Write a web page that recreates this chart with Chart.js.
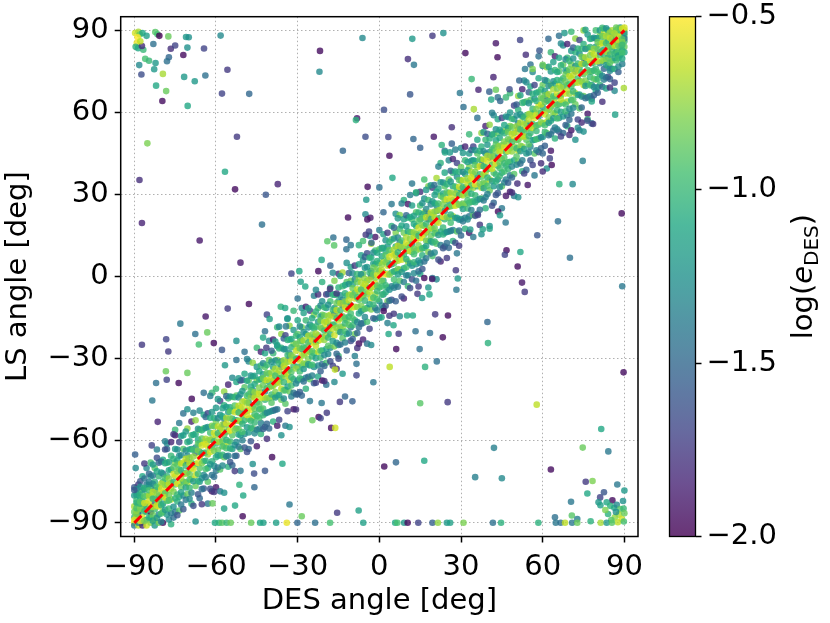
<!DOCTYPE html>
<html><head><meta charset="utf-8">
<script src="https://cdn.jsdelivr.net/npm/chart.js@4.4.1/dist/chart.umd.min.js"></script>
<style>html,body{margin:0;padding:0;background:#fff;}canvas{display:block;}</style>
</head><body>
<canvas id="c" width="830" height="623"></canvas>
<script>
// ---------------- data ----------------
const xTicks = [-90, -60, -30, 0, 30, 60, 90];
const yTicks = [-90, -60, -30, 0, 30, 60, 90];
const cbTicks = [-2.0, -1.5, -1.0, -0.5];
const cbMin = -2.0, cbMax = -0.5;
const refLineX = [-90, 90];
const refLineY = [-90, 90];

// dense band along the 1:1 line, first set: DES angle per column, 8 LS angles per column
const bandDes = [-90,-88.5,-87,-85.5,-84,-82.5,-81,-79.5,-78,-76.5,-75,-73.5,-72,-70.5,-69,-67.5,-66,-64.5,-63,-61.5,-60,-58.5,-57,-55.5,-54,-52.5,-51,-49.5,-48,-46.5,-45,-43.5,-42,-40.5,-39,-37.5,-36,-34.5,-33,-31.5,-30,-28.5,-27,-25.5,-24,-22.5,-21,-19.5,-18,-16.5,-15,-13.5,-12,-10.5,-9,-7.5,-6,-4.5,-3,-1.5,0,1.5,3,4.5,6,7.5,9,10.5,12,13.5,15,16.5,18,19.5,21,22.5,24,25.5,27,28.5,30,31.5,33,34.5,36,37.5,39,40.5,42,43.5,45,46.5,48,49.5,51,52.5,54,55.5,57,58.5,60,61.5,63,64.5,66,67.5,69,70.5,72,73.5,75,76.5,78,79.5,81,82.5,84,85.5,87,88.5,90];
const bandLs = [
-90,-88,-86,-91,-84,-80,-89,-77,
-89,-91,-86,-83,-87,-79,-90,-76,
-85,-90,-88,-82,-78,-91,-84,-73,
-86,-83,-89,-80,-91,-76,-84,-70,
-84,-88,-80,-86,-77,-90,-73,-68,
-81,-85,-78,-89,-75,-83,-70,-91,
-80,-84,-77,-87,-73,-82,-68,-90,
-79,-83,-75,-86,-72,-80,-67,-90,
-78,-82,-73,-87,-68,-76,-63,-61,
-75.5,-81.5,-70.5,-86.5,-65.5,-77.5,-60.5,-90.5,
-73,-81,-68,-86,-76,-63,-58,-56,
-75.5,-70.5,-80.5,-65.5,-72.5,-85.5,-60.5,-53.5,
-75,-68,-80,-63,-72,-85,-58,-50,
-71.5,-65.5,-75.5,-60.5,-79.5,-67.5,-48.5,-55.5,
-68,-74,-63,-79,-58,-70,-53,-83,
-68.5,-62.5,-72.5,-57.5,-76.5,-64.5,-89.5,-52.5,
-66,-70,-61,-75,-56,-64,-81,-49,
-67.5,-60.5,-72.5,-55.5,-64.5,-77.5,-50.5,-42.5,
-65,-60,-70,-55,-62,-75,-50,-83,
-59.5,-67.5,-54.5,-72.5,-62.5,-49.5,-78.5,-42.5,
-58,-66,-53,-71,-61,-48,-77,-41,
-60.5,-55.5,-65.5,-50.5,-57.5,-70.5,-45.5,-78.5,
-58,-52,-62,-47,-66,-54,-79,-42,
-54.5,-60.5,-49.5,-65.5,-44.5,-56.5,-39.5,-69.5,
-54,-58,-49,-63,-44,-52,-69,-37,
-55.5,-48.5,-60.5,-43.5,-52.5,-65.5,-38.5,-30.5,
-53,-48,-58,-43,-50,-63,-38,-71,
-52.5,-45.5,-57.5,-40.5,-49.5,-62.5,-35.5,-27.5,
-48,-52,-43,-57,-38,-46,-63,-31,
-47.5,-41.5,-51.5,-36.5,-55.5,-43.5,-68.5,-31.5,
-43,-51,-38,-56,-46,-33,-62,-26,
-42.5,-48.5,-37.5,-53.5,-32.5,-44.5,-27.5,-57.5,
-45,-38,-50,-33,-42,-55,-28,-20,
-40.5,-44.5,-35.5,-49.5,-30.5,-38.5,-55.5,-23.5,
-38,-44,-33,-49,-28,-40,-23,-53,
-35.5,-43.5,-30.5,-48.5,-38.5,-25.5,-54.5,-18.5,
-37,-31,-41,-26,-45,-33,-58,-21,
-36.5,-31.5,-41.5,-26.5,-33.5,-46.5,-21.5,-54.5,
-34,-28,-38,-23,-42,-30,-55,-18,
-29.5,-37.5,-24.5,-42.5,-32.5,-19.5,-48.5,-12.5,
-33,-26,-38,-21,-30,-43,-16,-8,
-28.5,-32.5,-23.5,-37.5,-18.5,-26.5,-43.5,-11.5,
-26,-32,-21,-37,-16,-28,-11,-41,
-27.5,-22.5,-32.5,-17.5,-24.5,-37.5,-12.5,-45.5,
-24,-28,-19,-33,-14,-22,-39,-7,
-21.5,-27.5,-16.5,-32.5,-11.5,-23.5,-6.5,-36.5,
-19,-27,-14,-32,-22,-9,-38,-2,
-21.5,-16.5,-26.5,-11.5,-18.5,-31.5,-6.5,-39.5,
-21,-14,-26,-9,-18,-31,-4,4,
-17.5,-11.5,-21.5,-6.5,-25.5,-13.5,-38.5,-1.5,
-14,-20,-9,-25,-4,-16,1,-29,
-14.5,-8.5,-18.5,-3.5,-22.5,-10.5,-35.5,1.5,
-12,-16,-7,-21,-2,-10,-27,5,
-13.5,-6.5,-18.5,-1.5,-10.5,-23.5,3.5,11.5,
-11,-6,-16,-1,-8,-21,4,-29,
-5.5,-13.5,-0.5,-18.5,-8.5,4.5,-24.5,11.5,
-4,-12,1,-17,-7,6,-23,13,
-6.5,-1.5,-11.5,3.5,-3.5,-16.5,8.5,-24.5,
-4,2,-8,7,-12,0,-25,12,
-0.5,-6.5,4.5,-11.5,9.5,-2.5,14.5,-15.5,
0,-4,5,-9,10,2,-15,17,
-1.5,5.5,-6.5,10.5,1.5,-11.5,15.5,23.5,
1,6,-4,11,4,-9,16,-17,
1.5,8.5,-3.5,13.5,4.5,-8.5,18.5,26.5,
6,2,11,-3,16,8,-9,23,
6.5,12.5,2.5,17.5,-1.5,10.5,-14.5,22.5,
11,3,16,-2,8,21,-8,28,
11.5,5.5,16.5,0.5,21.5,9.5,26.5,-3.5,
9,16,4,21,12,-1,26,34,
13.5,9.5,18.5,4.5,23.5,15.5,-1.5,30.5,
16,10,21,5,26,14,31,1,
18.5,10.5,23.5,5.5,15.5,28.5,-0.5,35.5,
17,23,13,28,9,21,-4,33,
17.5,22.5,12.5,27.5,20.5,7.5,32.5,-0.5,
20,26,16,31,12,24,-1,36,
24.5,16.5,29.5,11.5,21.5,34.5,5.5,41.5,
21,28,16,33,24,11,38,46,
25.5,21.5,30.5,16.5,35.5,27.5,10.5,42.5,
28,22,33,17,38,26,43,13,
26.5,31.5,21.5,36.5,29.5,16.5,41.5,8.5,
30,26,35,21,40,32,15,47,
32.5,26.5,37.5,21.5,42.5,30.5,47.5,17.5,
35,27,40,22,32,45,16,52,
32.5,37.5,27.5,42.5,35.5,22.5,47.5,14.5,
33,40,28,45,36,23,50,58,
36.5,42.5,32.5,47.5,28.5,40.5,15.5,52.5,
40,34,45,29,50,38,55,25,
39.5,45.5,35.5,50.5,31.5,43.5,18.5,55.5,
42,38,47,33,52,44,27,59,
40.5,47.5,35.5,52.5,43.5,30.5,57.5,65.5,
43,48,38,53,46,33,58,25,
48.5,40.5,53.5,35.5,45.5,58.5,29.5,65.5,
50,42,55,37,47,60,31,67,
47.5,52.5,42.5,57.5,50.5,37.5,62.5,29.5,
50,56,46,61,42,54,29,66,
53.5,47.5,58.5,42.5,63.5,51.5,68.5,38.5,
54,50,59,45,64,56,39,71,
52.5,59.5,47.5,64.5,55.5,42.5,69.5,77.5,
55,60,50,65,58,45,70,37,
55.5,62.5,50.5,67.5,58.5,45.5,72.5,80.5,
60,56,65,51,70,62,45,77,
60.5,66.5,56.5,71.5,52.5,64.5,39.5,76.5,
65,57,70,52,62,75,46,82,
65.5,59.5,70.5,54.5,75.5,63.5,80.5,50.5,
63,70,58,75,66,53,80,88,
67.5,63.5,72.5,58.5,77.5,69.5,52.5,84.5,
70,64,75,59,80,68,85,55,
72.5,64.5,77.5,59.5,69.5,82.5,53.5,89.5,
71,77,67,82,63,75,50,87,
71.5,76.5,66.5,81.5,74.5,61.5,86.5,53.5,
74,80,70,85,66,78,53,90,
78.5,70.5,83.5,65.5,75.5,88.5,59.5,57.5,
75,82,70,87,78,65,64,56,
80,76,84,72,87,79,68,90,
81,78,85,74,88,82,70,90,
83,79,86,76,89,81,72,90.5,
84,80,88,77,86,82,73,90,
86,83,89,79,87,76,90,84,
87,85,90,82,88,79,86,91,
89,86,88,84,90,87,81,91,
90,88,89,86,84,91,87,82
];
const bandLog = [
-0.6,-1.0,-0.85,-1.4,-0.7,-1.2,-0.55,-1.6,
-0.9,-0.65,-1.1,-0.8,-1.5,-1.0,-1.3,-1.75,
-0.75,-1.05,-0.6,-1.2,-0.95,-1.85,-0.8,-1.1,
-1.0,-0.7,-1.25,-0.9,-0.6,-1.4,-1.1,-1.3,
-0.55,-1.15,-0.85,-1.9,-1.0,-0.75,-1.2,-0.95,
-0.8,-0.95,-1.35,-0.65,-1.05,-1.6,-0.9,-1.2,
-1.1,-0.6,-0.9,-1.3,-1.0,-0.75,-1.5,-0.85,
-0.7,-1.2,-1.0,-0.85,-1.45,-0.6,-1.1,-1.95,
-0.6,-0.9,-1.0,-1.2,-0.85,-1.1,-1.5,-1.3,
-0.85,-0.7,-1.15,-1.35,-1.0,-0.65,-1.85,-1.05,
-0.7,-1.05,-0.8,-1.4,-0.95,-1.2,-1.9,-1.0,
-0.75,-0.95,-1.1,-1.25,-0.55,-0.9,-1.7,-1.4,
-1.0,-0.6,-1.3,-0.9,-1.2,-1.6,-1.1,-1.45,
-0.9,-1.3,-0.65,-1.05,-0.85,-1.5,-1.25,-0.75,
-0.85,-0.7,-1.15,-1.35,-1.0,-0.65,-1.85,-1.05,
-0.9,-1.3,-0.65,-1.05,-0.85,-1.5,-1.25,-0.75,
-0.6,-0.9,-1.0,-1.2,-0.85,-1.1,-1.5,-1.3,
-1.0,-0.6,-1.3,-0.9,-1.2,-1.6,-1.1,-1.45,
-0.75,-0.95,-1.1,-1.25,-0.55,-0.9,-1.7,-1.4,
-0.7,-1.05,-0.8,-1.4,-0.95,-1.2,-1.9,-1.0,
-0.7,-1.05,-0.8,-1.4,-0.95,-1.2,-1.9,-1.0,
-0.75,-0.95,-1.1,-1.25,-0.55,-0.9,-1.7,-1.4,
-0.9,-1.3,-0.65,-1.05,-0.85,-1.5,-1.25,-0.75,
-0.85,-0.7,-1.15,-1.35,-1.0,-0.65,-1.85,-1.05,
-0.6,-0.9,-1.0,-1.2,-0.85,-1.1,-1.5,-1.3,
-1.0,-0.6,-1.3,-0.9,-1.2,-1.6,-1.1,-1.45,
-0.75,-0.95,-1.1,-1.25,-0.55,-0.9,-1.7,-1.4,
-1.0,-0.6,-1.3,-0.9,-1.2,-1.6,-1.1,-1.45,
-0.6,-0.9,-1.0,-1.2,-0.85,-1.1,-1.5,-1.3,
-0.9,-1.3,-0.65,-1.05,-0.85,-1.5,-1.25,-0.75,
-0.7,-1.05,-0.8,-1.4,-0.95,-1.2,-1.9,-1.0,
-0.85,-0.7,-1.15,-1.35,-1.0,-0.65,-1.85,-1.05,
-1.0,-0.6,-1.3,-0.9,-1.2,-1.6,-1.1,-1.45,
-0.6,-0.9,-1.0,-1.2,-0.85,-1.1,-1.5,-1.3,
-0.85,-0.7,-1.15,-1.35,-1.0,-0.65,-1.85,-1.05,
-0.7,-1.05,-0.8,-1.4,-0.95,-1.2,-1.9,-1.0,
-0.9,-1.3,-0.65,-1.05,-0.85,-1.5,-1.25,-0.75,
-0.75,-0.95,-1.1,-1.25,-0.55,-0.9,-1.7,-1.4,
-0.9,-1.3,-0.65,-1.05,-0.85,-1.5,-1.25,-0.75,
-0.7,-1.05,-0.8,-1.4,-0.95,-1.2,-1.9,-1.0,
-1.0,-0.6,-1.3,-0.9,-1.2,-1.6,-1.1,-1.45,
-0.6,-0.9,-1.0,-1.2,-0.85,-1.1,-1.5,-1.3,
-0.85,-0.7,-1.15,-1.35,-1.0,-0.65,-1.85,-1.05,
-0.75,-0.95,-1.1,-1.25,-0.55,-0.9,-1.7,-1.4,
-0.55,-0.95,-1.05,-1.25,-0.8,-1.15,-1.55,-1.35,
-0.8,-0.65,-1.2,-1.3,-0.95,-0.7,-1.8,-1.1,
-0.75,-1.1,-0.85,-1.45,-0.9,-1.25,-1.95,-1.05,
-0.7,-1.0,-1.15,-1.2,-0.6,-0.95,-1.75,-1.45,
-1.05,-0.65,-1.25,-0.95,-1.15,-1.65,-1.05,-1.5,
-0.95,-1.25,-0.6,-1.1,-0.8,-1.45,-1.3,-0.8,
-0.8,-0.75,-1.2,-1.3,-1.05,-0.6,-1.8,-1.0,
-0.85,-1.35,-0.7,-1.0,-0.9,-1.55,-1.2,-0.7,
-0.65,-0.85,-1.05,-1.15,-0.9,-1.05,-1.55,-1.25,
-0.95,-0.55,-1.35,-0.85,-1.15,-1.65,-1.15,-1.4,
-0.7,-1.0,-1.05,-1.3,-0.6,-0.85,-1.75,-1.35,
-0.75,-1.1,-0.75,-1.45,-0.9,-1.15,-1.95,-1.05,
-0.65,-1.0,-0.85,-1.35,-1.0,-1.25,-1.85,-0.95,
-0.8,-0.9,-1.15,-1.2,-0.6,-0.95,-1.65,-1.45,
-0.95,-1.25,-0.6,-1.1,-0.8,-1.45,-1.3,-0.7,
-0.8,-0.75,-1.1,-1.4,-0.95,-0.6,-1.9,-1.1,
-0.55,-0.95,-0.95,-1.25,-0.9,-1.05,-1.45,-1.35,
-1.05,-0.65,-1.25,-0.95,-1.15,-1.55,-1.15,-1.5,
-0.7,-1.0,-1.05,-1.2,-0.6,-0.85,-1.75,-1.35,
-0.95,-0.55,-1.35,-0.85,-1.25,-1.65,-1.05,-1.4,
-0.65,-0.85,-1.05,-1.15,-0.8,-1.15,-1.55,-1.25,
-0.85,-1.35,-0.7,-1.0,-0.9,-1.45,-1.3,-0.8,
-0.75,-1.1,-0.85,-1.35,-1.0,-1.15,-1.85,-1.05,
-0.8,-0.75,-1.1,-1.3,-1.05,-0.7,-1.9,-1.0,
-1.05,-0.65,-1.25,-0.95,-1.15,-1.65,-1.15,-1.4,
-0.55,-0.85,-1.05,-1.25,-0.9,-1.05,-1.45,-1.35,
-0.8,-0.75,-1.2,-1.3,-0.95,-0.6,-1.8,-1.1,
-0.75,-1.0,-0.75,-1.45,-0.9,-1.25,-1.95,-0.95,
-0.95,-1.35,-0.7,-1.0,-0.8,-1.55,-1.2,-0.8,
-0.7,-0.9,-1.15,-1.2,-0.6,-0.95,-1.75,-1.45,
-0.85,-1.25,-0.6,-1.1,-0.9,-1.45,-1.3,-0.7,
-0.65,-1.1,-0.85,-1.35,-1.0,-1.15,-1.85,-1.05,
-1.0,-0.6,-1.3,-0.9,-1.2,-1.6,-1.1,-1.45,
-0.6,-0.9,-1.0,-1.2,-0.85,-1.1,-1.5,-1.3,
-0.85,-0.7,-1.15,-1.35,-1.0,-0.65,-1.85,-1.05,
-0.75,-0.95,-1.1,-1.25,-0.55,-0.9,-1.7,-1.4,
-0.6,-0.9,-1.0,-1.2,-0.85,-1.1,-1.5,-1.3,
-0.85,-0.7,-1.15,-1.35,-1.0,-0.65,-1.85,-1.05,
-0.7,-1.05,-0.8,-1.4,-0.95,-1.2,-1.9,-1.0,
-0.75,-0.95,-1.1,-1.25,-0.55,-0.9,-1.7,-1.4,
-1.0,-0.6,-1.3,-0.9,-1.2,-1.6,-1.1,-1.45,
-0.9,-1.3,-0.65,-1.05,-0.85,-1.5,-1.25,-0.75,
-0.85,-0.7,-1.15,-1.35,-1.0,-0.65,-1.85,-1.05,
-0.9,-1.3,-0.65,-1.05,-0.85,-1.5,-1.25,-0.75,
-0.6,-0.9,-1.0,-1.2,-0.85,-1.1,-1.5,-1.3,
-1.0,-0.6,-1.3,-0.9,-1.2,-1.6,-1.1,-1.45,
-0.75,-0.95,-1.1,-1.25,-0.55,-0.9,-1.7,-1.4,
-0.7,-1.05,-0.8,-1.4,-0.95,-1.2,-1.9,-1.0,
-0.7,-1.05,-0.8,-1.4,-0.95,-1.2,-1.9,-1.0,
-0.75,-0.95,-1.1,-1.25,-0.55,-0.9,-1.7,-1.4,
-0.9,-1.3,-0.65,-1.05,-0.85,-1.5,-1.25,-0.75,
-0.85,-0.7,-1.15,-1.35,-1.0,-0.65,-1.85,-1.05,
-0.6,-0.9,-1.0,-1.2,-0.85,-1.1,-1.5,-1.3,
-1.0,-0.6,-1.3,-0.9,-1.2,-1.6,-1.1,-1.45,
-0.75,-0.95,-1.1,-1.25,-0.55,-0.9,-1.7,-1.4,
-1.0,-0.6,-1.3,-0.9,-1.2,-1.6,-1.1,-1.45,
-0.6,-0.9,-1.0,-1.2,-0.85,-1.1,-1.5,-1.3,
-0.9,-1.3,-0.65,-1.05,-0.85,-1.5,-1.25,-0.75,
-0.7,-1.05,-0.8,-1.4,-0.95,-1.2,-1.9,-1.0,
-0.85,-0.7,-1.15,-1.35,-1.0,-0.65,-1.85,-1.05,
-1.0,-0.6,-1.3,-0.9,-1.2,-1.6,-1.1,-1.45,
-0.6,-0.9,-1.0,-1.2,-0.85,-1.1,-1.5,-1.3,
-0.85,-0.7,-1.15,-1.35,-1.0,-0.65,-1.85,-1.05,
-0.7,-1.05,-0.8,-1.4,-0.95,-1.2,-1.9,-1.0,
-0.9,-1.3,-0.65,-1.05,-0.85,-1.5,-1.25,-0.75,
-0.75,-0.95,-1.1,-1.25,-0.55,-0.9,-1.7,-1.4,
-0.9,-1.3,-0.65,-1.05,-0.85,-1.5,-1.25,-0.75,
-0.7,-1.05,-0.8,-1.4,-0.95,-1.2,-1.9,-1.0,
-1.0,-0.6,-1.3,-0.9,-1.2,-1.6,-1.1,-1.45,
-0.65,-1.0,-1.2,-0.85,-1.4,-0.75,-1.1,-0.95,
-0.9,-1.3,-0.6,-1.05,-0.8,-1.6,-1.0,-1.2,
-1.1,-0.7,-0.95,-1.5,-0.6,-1.0,-1.35,-0.85,
-0.75,-1.15,-1.0,-0.9,-1.25,-0.55,-1.7,-1.05,
-0.6,-1.0,-1.3,-0.8,-1.1,-1.45,-0.7,-0.95,
-1.05,-0.65,-0.9,-1.2,-0.75,-1.0,-1.55,-0.85,
-0.8,-1.1,-0.6,-1.35,-0.95,-0.7,-1.0,-1.25,
-0.7,-0.9,-1.2,-1.0,-0.85,-0.6,-1.4,-1.1
];

// dense band, second set (columns between the first set), 8 LS angles per column
const band2Des = [-89.2,-87.8,-86.3,-84.6,-83.2,-81.7,-80.1,-78.7,-77.3,-75.6,-74.2,-72.8,-71.1,-69.7,-68.3,-66.6,-65.2,-63.8,-62.1,-60.7,-59.3,-57.6,-56.2,-54.8,-53.1,-51.7,-50.3,-48.6,-47.2,-45.8,-44.1,-42.7,-41.3,-39.6,-38.2,-36.8,-35.1,-33.7,-32.3,-30.6,-29.2,-27.8,-26.1,-24.7,-23.3,-21.6,-20.2,-18.8,-17.1,-15.7,-14.3,-12.6,-11.2,-9.8,-8.1,-6.7,-5.3,-3.6,-2.2,-0.8,0.9,2.3,3.7,5.4,6.8,8.2,9.9,11.3,12.7,14.4,15.8,17.2,18.9,20.3,21.7,23.4,24.8,26.2,27.9,29.3,30.7,32.4,33.8,35.2,36.9,38.3,39.7,41.4,42.8,44.2,45.9,47.3,48.7,50.4,51.8,53.2,54.9,56.3,57.7,59.4,60.8,62.2,63.9,65.3,66.7,68.4,69.8,71.2,72.9,74.3,75.7,77.4,78.8,80.2,81.9,83.3,84.7,86.4,87.8,89.2];
const band2Ls = [
-87.7,-86.7,-82.7,-81.7,-85.7,-77.7,-79.7,-84.7,
-84.8,-89.3,-83.0,-80.8,-74.8,-82.3,-76.8,-79.8,
-85.8,-89.3,-82.8,-77.8,-80.3,-73.8,-77.3,-68.3,
-85.1,-80.1,-88.1,-76.1,-75.1,-82.1,-78.1,-72.1,
-84.2,-81.2,-87.2,-78.7,-89.2,-75.7,-72.7,-68.7,
-79.2,-82.2,-88.2,-76.7,-83.7,-71.2,-66.2,-63.2,
-80.6,-75.6,-83.6,-71.6,-89.6,-77.6,-86.6,-67.6,
-76.2,-79.2,-85.2,-73.7,-80.7,-68.2,-63.2,-60.2,
-75.8,-79.8,-70.8,-84.8,-73.8,-88.8,-67.8,-81.8,
-75.1,-78.6,-72.1,-84.1,-69.6,-88.1,-66.6,-57.6,
-71.2,-75.7,-79.7,-67.2,-87.2,-68.7,-63.2,-82.2,
-73.8,-70.8,-76.8,-68.3,-78.8,-65.3,-83.3,-58.3,
-72.1,-69.1,-75.1,-66.6,-77.1,-63.6,-81.6,-56.6,
-68.2,-72.2,-63.2,-77.2,-66.2,-81.2,-60.2,-74.2,
-65.8,-68.8,-74.8,-63.3,-70.3,-57.8,-83.8,-49.8,
-63.6,-68.1,-72.1,-59.6,-79.6,-61.1,-55.6,-74.6,
-64.7,-68.2,-61.7,-73.7,-59.2,-77.7,-56.2,-83.2,
-64.3,-59.3,-67.3,-55.3,-73.3,-61.3,-70.3,-51.3,
-59.6,-62.6,-68.6,-57.1,-64.1,-51.6,-77.6,-43.6,
-60.2,-63.7,-57.2,-69.2,-54.7,-73.2,-51.7,-78.7,
-60.3,-57.3,-63.3,-54.8,-65.3,-51.8,-69.8,-44.8,
-56.1,-60.1,-51.1,-65.1,-54.1,-69.1,-48.1,-62.1,
-56.7,-51.7,-59.7,-47.7,-65.7,-53.7,-62.7,-43.7,
-51.8,-56.3,-60.3,-47.8,-67.8,-49.3,-43.8,-62.8,
-52.6,-56.1,-49.6,-61.6,-47.1,-65.6,-44.1,-71.1,
-52.7,-49.7,-55.7,-47.2,-57.7,-44.2,-62.2,-37.2,
-50.8,-45.8,-53.8,-41.8,-59.8,-47.8,-56.8,-37.8,
-46.1,-49.1,-55.1,-43.6,-50.6,-38.1,-64.1,-30.1,
-44.2,-48.7,-52.7,-40.2,-60.2,-41.7,-36.2,-55.2,
-44.3,-48.3,-39.3,-53.3,-42.3,-57.3,-36.3,-50.3,
-42.6,-46.6,-37.6,-51.6,-40.6,-55.6,-34.6,-48.6,
-39.7,-44.2,-48.2,-35.7,-55.7,-37.2,-31.7,-50.7,
-40.8,-44.3,-37.8,-49.8,-35.3,-53.8,-32.3,-59.3,
-40.1,-35.1,-43.1,-31.1,-49.1,-37.1,-46.1,-27.1,
-39.2,-36.2,-42.2,-33.7,-44.2,-30.7,-48.7,-23.7,
-34.3,-37.3,-43.3,-31.8,-38.8,-26.3,-52.3,-18.3,
-35.6,-30.6,-38.6,-26.6,-44.6,-32.6,-41.6,-22.6,
-31.2,-34.2,-40.2,-28.7,-35.7,-23.2,-49.2,-15.2,
-30.8,-34.8,-25.8,-39.8,-28.8,-43.8,-22.8,-36.8,
-30.1,-33.6,-27.1,-39.1,-24.6,-43.1,-21.6,-48.6,
-26.2,-30.7,-34.7,-22.2,-42.2,-23.7,-18.2,-37.2,
-28.8,-25.8,-31.8,-23.3,-33.8,-20.3,-38.3,-13.3,
-27.1,-24.1,-30.1,-21.6,-32.1,-18.6,-36.6,-11.6,
-23.2,-27.2,-18.2,-32.2,-21.2,-36.2,-15.2,-29.2,
-20.8,-23.8,-29.8,-18.3,-25.3,-12.8,-38.8,-4.8,
-18.6,-23.1,-27.1,-14.6,-34.6,-16.1,-10.6,-29.6,
-19.7,-23.2,-16.7,-28.7,-14.2,-32.7,-11.2,-38.2,
-19.3,-14.3,-22.3,-10.3,-28.3,-16.3,-25.3,-6.3,
-14.6,-17.6,-23.6,-12.1,-19.1,-6.6,-32.6,1.4,
-15.2,-18.7,-12.2,-24.2,-9.7,-28.2,-6.7,-33.7,
-15.3,-12.3,-18.3,-9.8,-20.3,-6.8,-24.8,0.2,
-11.1,-15.1,-6.1,-20.1,-9.1,-24.1,-3.1,-17.1,
-11.7,-6.7,-14.7,-2.7,-20.7,-8.7,-17.7,1.3,
-6.8,-11.3,-15.3,-2.8,-22.8,-4.3,1.2,-17.8,
-7.6,-11.1,-4.6,-16.6,-2.1,-20.6,0.9,-26.1,
-7.7,-4.7,-10.7,-2.2,-12.7,0.8,-17.2,7.8,
-5.8,-0.8,-8.8,3.2,-14.8,-2.8,-11.8,7.2,
-1.1,-4.1,-10.1,1.4,-5.6,6.9,-19.1,14.9,
0.8,-3.7,-7.7,4.8,-15.2,3.3,8.8,-10.2,
0.7,-3.3,5.7,-8.3,2.7,-12.3,8.7,-5.3,
2.4,-1.6,7.4,-6.6,4.4,-10.6,10.4,-3.6,
5.3,0.8,-3.2,9.3,-10.7,7.8,13.3,-5.7,
4.2,0.7,7.2,-4.8,9.7,-8.8,12.7,-14.3,
4.9,9.9,1.9,13.9,-4.1,7.9,-1.1,17.9,
5.8,8.8,2.8,11.3,0.8,14.3,-3.7,21.3,
10.7,7.7,1.7,13.2,6.2,18.7,-7.3,26.7,
9.4,14.4,6.4,18.4,0.4,12.4,3.4,22.4,
13.8,10.8,4.8,16.3,9.3,21.8,-4.2,29.8,
14.2,10.2,19.2,5.2,16.2,1.2,22.2,8.2,
14.9,11.4,17.9,5.9,20.4,1.9,23.4,-3.6,
18.8,14.3,10.3,22.8,2.8,21.3,26.8,7.8,
16.2,19.2,13.2,21.7,11.2,24.7,6.7,31.7,
17.9,20.9,14.9,23.4,12.9,26.4,8.4,33.4,
21.8,17.8,26.8,12.8,23.8,8.8,29.8,15.8,
24.2,21.2,15.2,26.7,19.7,32.2,6.2,40.2,
26.4,21.9,17.9,30.4,10.4,28.9,34.4,15.4,
25.3,21.8,28.3,16.3,30.8,12.3,33.8,6.8,
25.7,30.7,22.7,34.7,16.7,28.7,19.7,38.7,
30.4,27.4,21.4,32.9,25.9,38.4,12.4,46.4,
29.8,26.3,32.8,20.8,35.3,16.8,38.3,11.3,
29.7,32.7,26.7,35.2,24.7,38.2,20.2,45.2,
33.9,29.9,38.9,24.9,35.9,20.9,41.9,27.9,
33.3,38.3,30.3,42.3,24.3,36.3,27.3,46.3,
38.2,33.7,29.7,42.2,22.2,40.7,46.2,27.2,
37.4,33.9,40.4,28.4,42.9,24.4,45.9,18.9,
37.3,40.3,34.3,42.8,32.3,45.8,27.8,52.8,
39.2,44.2,36.2,48.2,30.2,42.2,33.2,52.2,
43.9,40.9,34.9,46.4,39.4,51.9,25.9,59.9,
45.8,41.3,37.3,49.8,29.8,48.3,53.8,34.8,
45.7,41.7,50.7,36.7,47.7,32.7,53.7,39.7,
47.4,43.4,52.4,38.4,49.4,34.4,55.4,41.4,
50.3,45.8,41.8,54.3,34.3,52.8,58.3,39.3,
49.2,45.7,52.2,40.2,54.7,36.2,57.7,30.7,
49.9,54.9,46.9,58.9,40.9,52.9,43.9,62.9,
50.8,53.8,47.8,56.3,45.8,59.3,41.3,66.3,
55.7,52.7,46.7,58.2,51.2,63.7,37.7,71.7,
54.4,59.4,51.4,63.4,45.4,57.4,48.4,67.4,
58.8,55.8,49.8,61.3,54.3,66.8,40.8,74.8,
59.2,55.2,64.2,50.2,61.2,46.2,67.2,53.2,
59.9,56.4,62.9,50.9,65.4,46.9,68.4,41.4,
63.8,59.3,55.3,67.8,47.8,66.3,71.8,52.8,
61.2,64.2,58.2,66.7,56.2,69.7,51.7,76.7,
62.9,65.9,59.9,68.4,57.9,71.4,53.4,78.4,
66.8,62.8,71.8,57.8,68.8,53.8,74.8,60.8,
69.2,66.2,60.2,71.7,64.7,77.2,51.2,85.2,
71.4,66.9,62.9,75.4,55.4,73.9,79.4,60.4,
70.3,66.8,73.3,61.3,75.8,57.3,78.8,51.8,
70.7,75.7,67.7,79.7,61.7,73.7,64.7,83.7,
75.4,72.4,66.4,77.9,70.9,83.4,57.4,54.4,
74.8,71.3,77.8,65.8,80.3,61.8,83.3,56.3,
74.7,77.7,71.7,80.2,69.7,83.2,65.2,90.2,
78.9,74.9,83.9,69.9,80.9,65.9,86.9,72.9,
78.3,83.3,75.3,87.3,69.3,81.3,72.3,66.3,
83.2,78.7,74.7,87.2,67.2,85.7,69.2,72.2,
82.4,78.9,85.4,73.4,87.9,69.4,90.9,63.9,
82.3,85.3,79.3,87.8,77.3,90.8,72.8,68.8,
84.2,89.2,81.2,76.2,75.2,87.2,78.2,72.2,
88.9,85.9,79.9,81.4,84.4,75.9,70.9,67.9,
90.8,86.3,82.3,80.8,74.8,84.3,76.8,79.8,
90.7,86.7,82.7,81.7,85.7,77.7,79.7,84.7
];
const band2Log = [
-0.65,-0.85,-1.1,-1.0,-0.75,-1.3,-1.15,-0.95,
-0.8,-0.55,-1.0,-1.1,-1.6,-0.9,-1.25,-1.05,
-1.0,-0.8,-0.6,-1.25,-0.9,-1.45,-1.05,-1.75,
-0.9,-0.7,-1.05,-1.2,-1.35,-0.6,-0.95,-1.5,
-0.7,-1.0,-0.85,-0.65,-1.15,-1.3,-1.4,-1.2,
-0.75,-0.9,-1.2,-0.95,-0.6,-1.1,-1.65,-1.35,
-0.9,-0.7,-1.05,-1.2,-1.35,-0.6,-0.95,-1.5,
-0.75,-0.9,-1.2,-0.95,-0.6,-1.1,-1.65,-1.35,
-0.65,-0.85,-1.1,-1.0,-0.75,-1.3,-1.15,-0.95,
-1.0,-0.8,-0.6,-1.25,-0.9,-1.45,-1.05,-1.75,
-0.8,-0.55,-1.0,-1.1,-1.6,-0.9,-1.25,-1.05,
-0.7,-1.0,-0.85,-0.65,-1.15,-1.3,-1.4,-1.2,
-0.7,-1.0,-0.85,-0.65,-1.15,-1.3,-1.4,-1.2,
-0.65,-0.85,-1.1,-1.0,-0.75,-1.3,-1.15,-0.95,
-0.75,-0.9,-1.2,-0.95,-0.6,-1.1,-1.65,-1.35,
-0.8,-0.55,-1.0,-1.1,-1.6,-0.9,-1.25,-1.05,
-1.0,-0.8,-0.6,-1.25,-0.9,-1.45,-1.05,-1.75,
-0.9,-0.7,-1.05,-1.2,-1.35,-0.6,-0.95,-1.5,
-0.75,-0.9,-1.2,-0.95,-0.6,-1.1,-1.65,-1.35,
-1.0,-0.8,-0.6,-1.25,-0.9,-1.45,-1.05,-1.75,
-0.7,-1.0,-0.85,-0.65,-1.15,-1.3,-1.4,-1.2,
-0.65,-0.85,-1.1,-1.0,-0.75,-1.3,-1.15,-0.95,
-0.9,-0.7,-1.05,-1.2,-1.35,-0.6,-0.95,-1.5,
-0.8,-0.55,-1.0,-1.1,-1.6,-0.9,-1.25,-1.05,
-1.0,-0.8,-0.6,-1.25,-0.9,-1.45,-1.05,-1.75,
-0.7,-1.0,-0.85,-0.65,-1.15,-1.3,-1.4,-1.2,
-0.9,-0.7,-1.05,-1.2,-1.35,-0.6,-0.95,-1.5,
-0.75,-0.9,-1.2,-0.95,-0.6,-1.1,-1.65,-1.35,
-0.8,-0.55,-1.0,-1.1,-1.6,-0.9,-1.25,-1.05,
-0.65,-0.85,-1.1,-1.0,-0.75,-1.3,-1.15,-0.95,
-0.6,-0.9,-1.05,-0.95,-0.8,-1.35,-1.1,-1.0,
-0.85,-0.6,-0.95,-1.15,-1.55,-0.85,-1.3,-1.0,
-0.95,-0.75,-0.65,-1.3,-0.85,-1.5,-1.0,-1.8,
-0.85,-0.75,-1.0,-1.25,-1.3,-0.65,-0.9,-1.55,
-0.75,-0.95,-0.8,-0.7,-1.2,-1.25,-1.45,-1.15,
-0.7,-0.95,-1.15,-1.0,-0.65,-1.05,-1.7,-1.3,
-0.85,-0.75,-1.0,-1.25,-1.3,-0.65,-0.9,-1.55,
-0.7,-0.95,-1.15,-1.0,-0.65,-1.05,-1.7,-1.3,
-0.6,-0.9,-1.05,-0.95,-0.8,-1.35,-1.1,-1.0,
-0.95,-0.75,-0.65,-1.3,-0.85,-1.5,-1.0,-1.8,
-0.85,-0.6,-0.95,-1.15,-1.55,-0.85,-1.3,-1.0,
-0.75,-0.95,-0.8,-0.7,-1.2,-1.25,-1.45,-1.15,
-0.75,-0.95,-0.8,-0.7,-1.2,-1.25,-1.45,-1.15,
-0.6,-0.9,-1.05,-0.95,-0.8,-1.35,-1.1,-1.0,
-0.7,-0.95,-1.15,-1.0,-0.65,-1.05,-1.7,-1.3,
-0.85,-0.6,-0.95,-1.15,-1.55,-0.85,-1.3,-1.0,
-0.95,-0.75,-0.65,-1.3,-0.85,-1.5,-1.0,-1.8,
-0.85,-0.75,-1.0,-1.25,-1.3,-0.65,-0.9,-1.55,
-0.7,-0.95,-1.15,-1.0,-0.65,-1.05,-1.7,-1.3,
-0.95,-0.75,-0.65,-1.3,-0.85,-1.5,-1.0,-1.8,
-0.75,-0.95,-0.8,-0.7,-1.2,-1.25,-1.45,-1.15,
-0.6,-0.9,-1.05,-0.95,-0.8,-1.35,-1.1,-1.0,
-0.85,-0.75,-1.0,-1.25,-1.3,-0.65,-0.9,-1.55,
-0.85,-0.6,-0.95,-1.15,-1.55,-0.85,-1.3,-1.0,
-0.95,-0.75,-0.65,-1.3,-0.85,-1.5,-1.0,-1.8,
-0.75,-0.95,-0.8,-0.7,-1.2,-1.25,-1.45,-1.15,
-0.85,-0.75,-1.0,-1.25,-1.3,-0.65,-0.9,-1.55,
-0.7,-0.95,-1.15,-1.0,-0.65,-1.05,-1.7,-1.3,
-0.85,-0.6,-0.95,-1.15,-1.55,-0.85,-1.3,-1.0,
-0.6,-0.9,-1.05,-0.95,-0.8,-1.35,-1.1,-1.0,
-0.65,-0.85,-1.1,-1.0,-0.75,-1.3,-1.15,-0.95,
-0.8,-0.55,-1.0,-1.1,-1.6,-0.9,-1.25,-1.05,
-1.0,-0.8,-0.6,-1.25,-0.9,-1.45,-1.05,-1.75,
-0.9,-0.7,-1.05,-1.2,-1.35,-0.6,-0.95,-1.5,
-0.7,-1.0,-0.85,-0.65,-1.15,-1.3,-1.4,-1.2,
-0.75,-0.9,-1.2,-0.95,-0.6,-1.1,-1.65,-1.35,
-0.9,-0.7,-1.05,-1.2,-1.35,-0.6,-0.95,-1.5,
-0.75,-0.9,-1.2,-0.95,-0.6,-1.1,-1.65,-1.35,
-0.65,-0.85,-1.1,-1.0,-0.75,-1.3,-1.15,-0.95,
-1.0,-0.8,-0.6,-1.25,-0.9,-1.45,-1.05,-1.75,
-0.8,-0.55,-1.0,-1.1,-1.6,-0.9,-1.25,-1.05,
-0.7,-1.0,-0.85,-0.65,-1.15,-1.3,-1.4,-1.2,
-0.7,-1.0,-0.85,-0.65,-1.15,-1.3,-1.4,-1.2,
-0.65,-0.85,-1.1,-1.0,-0.75,-1.3,-1.15,-0.95,
-0.75,-0.9,-1.2,-0.95,-0.6,-1.1,-1.65,-1.35,
-0.8,-0.55,-1.0,-1.1,-1.6,-0.9,-1.25,-1.05,
-1.0,-0.8,-0.6,-1.25,-0.9,-1.45,-1.05,-1.75,
-0.9,-0.7,-1.05,-1.2,-1.35,-0.6,-0.95,-1.5,
-0.75,-0.9,-1.2,-0.95,-0.6,-1.1,-1.65,-1.35,
-1.0,-0.8,-0.6,-1.25,-0.9,-1.45,-1.05,-1.75,
-0.7,-1.0,-0.85,-0.65,-1.15,-1.3,-1.4,-1.2,
-0.65,-0.85,-1.1,-1.0,-0.75,-1.3,-1.15,-0.95,
-0.9,-0.7,-1.05,-1.2,-1.35,-0.6,-0.95,-1.5,
-0.8,-0.55,-1.0,-1.1,-1.6,-0.9,-1.25,-1.05,
-1.0,-0.8,-0.6,-1.25,-0.9,-1.45,-1.05,-1.75,
-0.7,-1.0,-0.85,-0.65,-1.15,-1.3,-1.4,-1.2,
-0.9,-0.7,-1.05,-1.2,-1.35,-0.6,-0.95,-1.5,
-0.75,-0.9,-1.2,-0.95,-0.6,-1.1,-1.65,-1.35,
-0.8,-0.55,-1.0,-1.1,-1.6,-0.9,-1.25,-1.05,
-0.65,-0.85,-1.1,-1.0,-0.75,-1.3,-1.15,-0.95,
-0.6,-0.9,-1.05,-0.95,-0.8,-1.35,-1.1,-1.0,
-0.85,-0.6,-0.95,-1.15,-1.55,-0.85,-1.3,-1.0,
-0.95,-0.75,-0.65,-1.3,-0.85,-1.5,-1.0,-1.8,
-0.85,-0.75,-1.0,-1.25,-1.3,-0.65,-0.9,-1.55,
-0.75,-0.95,-0.8,-0.7,-1.2,-1.25,-1.45,-1.15,
-0.7,-0.95,-1.15,-1.0,-0.65,-1.05,-1.7,-1.3,
-0.85,-0.75,-1.0,-1.25,-1.3,-0.65,-0.9,-1.55,
-0.7,-0.95,-1.15,-1.0,-0.65,-1.05,-1.7,-1.3,
-0.6,-0.9,-1.05,-0.95,-0.8,-1.35,-1.1,-1.0,
-0.95,-0.75,-0.65,-1.3,-0.85,-1.5,-1.0,-1.8,
-0.85,-0.6,-0.95,-1.15,-1.55,-0.85,-1.3,-1.0,
-0.75,-0.95,-0.8,-0.7,-1.2,-1.25,-1.45,-1.15,
-0.75,-0.95,-0.8,-0.7,-1.2,-1.25,-1.45,-1.15,
-0.6,-0.9,-1.05,-0.95,-0.8,-1.35,-1.1,-1.0,
-0.7,-0.95,-1.15,-1.0,-0.65,-1.05,-1.7,-1.3,
-0.85,-0.6,-0.95,-1.15,-1.55,-0.85,-1.3,-1.0,
-0.95,-0.75,-0.65,-1.3,-0.85,-1.5,-1.0,-1.8,
-0.85,-0.75,-1.0,-1.25,-1.3,-0.65,-0.9,-1.55,
-0.7,-0.95,-1.15,-1.0,-0.65,-1.05,-1.7,-1.3,
-0.95,-0.75,-0.65,-1.3,-0.85,-1.5,-1.0,-1.8,
-0.75,-0.95,-0.8,-0.7,-1.2,-1.25,-1.45,-1.15,
-0.6,-0.9,-1.05,-0.95,-0.8,-1.35,-1.1,-1.0,
-0.85,-0.75,-1.0,-1.25,-1.3,-0.65,-0.9,-1.55,
-0.85,-0.6,-0.95,-1.15,-1.55,-0.85,-1.3,-1.0,
-0.95,-0.75,-0.65,-1.3,-0.85,-1.5,-1.0,-1.8,
-0.75,-0.95,-0.8,-0.7,-1.2,-1.25,-1.45,-1.15,
-0.85,-0.75,-1.0,-1.25,-1.3,-0.65,-0.9,-1.55,
-0.7,-0.95,-1.15,-1.0,-0.65,-1.05,-1.7,-1.3,
-0.85,-0.6,-0.95,-1.15,-1.55,-0.85,-1.3,-1.0,
-0.6,-0.9,-1.05,-0.95,-0.8,-1.35,-1.1,-1.0
];

// scattered points away from the 1:1 line
const outDes = [
-89.7,-88.5,-89.1,-88.0,-87.0,-85.5,-82.3,-81.5,-80.8,-77.5,
-71.0,-70.0,-58.3,-89.5,-88.6,-86.7,-87.2,-83.0,-76.6,-75.0,
-70.5,-64.4,-72.0,-77.3,-78.0,-86.0,-84.6,-82.2,-88.2,-82.7,
-87.4,-79.5,-71.7,-67.8,-63.9,-55.8,-82.0,-78.3,-57.8,-47.8,
-79.7,-70.4,-85.2,-52.3,-13.4,-8.2,-8.6,-5.1,-56.7,-88.1,
-53.0,-37.3,-41.7,-21.8,-6.2,-22.0,-4.3,-88.8,-87.8,0.0,
12.1,19.5,23.5,10.5,12.7,11.3,1.7,42.8,51.7,31.6,
43.4,53.8,58.8,62.1,68.0,53.5,56.3,60.0,33.9,41.9,
51.4,36.4,40.4,41.1,42.8,29.6,30.9,34.7,44.4,47.8,
26.6,3.3,12.5,15.0,20.0,3.7,22.9,26.6,24.1,25.9,
4.8,13.5,20.2,74.7,63.3,62.6,60.0,66.1,71.0,50.7,
54.5,86.6,78.5,76.4,89.8,84.7,-4.8,-87.2,-66.0,-43.1,
-51.0,-11.5,-32.3,-22.4,-55.7,-47.9,-63.8,-73.1,-67.6,-63.2,
-66.3,-87.2,-78.3,-77.5,-60.8,-57.8,-52.5,-41.3,-40.3,-42.7,
-41.5,-36.2,-34.6,-33.8,-29.4,-28.9,-27.2,-19.1,-16.6,-16.9,
-21.2,-12.1,-12.1,-5.1,-4.4,-3.3,-5.0,-3.8,-2.9,-18.1,
-15.7,-34.3,-37.5,89.0,65.6,70.0,89.2,58.0,46.7,46.1,
51.8,50.8,52.4,53.4,43.6,36.2,40.5,38.0,33.4,46.4,
44.3,39.7,39.9,25.2,23.3,20.5,18.6,13.3,7.1,14.8,
6.2,3.4,21.1,16.8,3.8,28.1,28.3,28.8,19.4,18.4,
14.0,15.7,10.2,12.3,5.3,5.2,1.6,0.8,15.0,25.1,
57.8,89.7,81.5,84.1,74.7,63.0,75.8,78.3,87.4,76.4,
81.1,82.5,85.6,90.0,80.5,81.2,83.5,84.8,86.3,87.2,
88.5,89.5,89.7,88.0,86.5,89.0,90.0,84.0,85.2,87.6,
89.8,83.0,86.9,70.4,70.7,64.5,72.7,77.6,5.8,6.6,
9.1,10.4,14.3,19.5,21.5,24.8,26.0,30.9,41.7,44.7,
58.4,64.8,66.6,68.2,70.8,72.7,81.3,83.5,85.4,1.8,
6.1,16.5,35.2,42.1,45.0,-82.0,-78.1,-73.7,-78.4,-70.5,
-83.4,-81.4,-83.6,-68.9,-56.7,-50.2,-45.9,-51.4,-50.0,-57.0,
-53.0,-61.3,-33.0,-28.5,-15.5,-7.6,-35.6,-39.4,-42.0,-46.0,
-24.6,-22.3,-21.6,-19.3,-17.7,-16.2,-14.5,-12.6,-9.9,-8.4,
-8.4,-2.2,-21.2,-16.3,-15.0,-60.4,-58.9,-57.8,-56.1,-54.6,
-47.1,-43.8,-42.6,-37.9,-34.0,-30.1,-23.6,-18.1,-5.9,-90.0,
-89.7,-89.5
];
const outLs = [
89,89.5,85.4,88.5,89.0,88.0,89.4,88.6,88.0,87.8,
87.6,87.5,88.1,84.0,83.5,82.9,84.3,85.0,83.3,84.5,
83.7,83.4,81.0,80.2,78.7,79.6,78.9,78.1,77.3,75.8,
73.9,74.1,73.0,71.4,73.5,75.6,69.8,67.8,66.9,66.8,
64.2,62.4,48.7,51.1,46.0,57.9,57.2,51.1,38.3,35.3,
31.9,33.8,29.9,82.5,87.2,74.9,32.8,87.5,86.0,32.6,
86.9,88.0,89.0,79.5,77.4,66.6,61.0,85.3,86.5,81.7,
80.2,81.1,82.6,86.9,89.0,75.9,75.9,77.4,72.2,72.9,
71.7,68.3,67.6,64.7,68.3,67.1,62.0,61.2,64.2,68.5,
54.6,51.0,50.3,47.1,51.1,44.2,48.1,48.6,45.4,45.4,
36.1,30.8,33.5,42.3,40.8,43.2,38.4,33.8,33.8,34.0,
33.5,59.2,55.8,57.0,68.9,69.1,28.1,19.6,13.2,19.0,
5.1,21.6,1.1,2.0,-11.7,-10.0,-14.6,-17.2,-21.0,-20.4,
-24.8,-24.9,-22.9,-27.4,-24.3,-26.8,-23.5,-13.9,-15.5,-22.3,
-26.0,-11.0,-11.5,-15.5,2.0,-1.9,-3.6,12.9,11.4,14.3,
6.1,13.5,10.0,22.8,20.9,21.5,15.3,16.5,12.4,-4.5,
-6.2,-18.2,-25.0,23.1,20.2,6.9,-3.5,15.1,9.6,8.0,
9.0,3.7,-2.2,-5.6,23.8,22.5,17.5,17.3,17.2,19.8,
22.4,-16.6,-24.3,-14.2,-22.2,-13.8,-20.6,-20.0,-20.9,-26.5,
-26.5,-21.0,-31.0,-33.0,-33.0,2.3,-4.8,-0.7,-0.9,-6.5,
-6.3,-7.8,-14.2,-14.2,-13.6,-17.8,-12.6,-14.9,-46.3,-45.9,
-46.8,-35.0,-55.7,-63.9,-62.5,-70.5,-75.0,-74.7,-76.0,-79.3,
-80.7,-78.8,-81.8,-78.2,-82.5,-83.6,-82.5,-83.8,-84.5,-83.4,
-85.0,-82.0,-84.8,-87.0,-88.0,-88.5,-86.5,-86.8,-89.0,-89.8,
-89.5,-85.3,-86.0,-82.3,-87.3,-88.0,-88.6,-89.4,-90,-90,
-90,-90,-90,-90,-90,-90,-90,-90,-90,-90,
-90,-90,-90,-90,-90,-90,-90,-90,-90,-69.4,
-67.9,-67.3,-73.3,-62.6,-73.7,-38.9,-37.7,-38.9,-34.6,-35.2,
-45.3,-53.1,-61.7,-44.7,-32.4,-87.6,-77.0,-76.1,-80.0,-84.8,
-83.7,-82.9,-83.3,-87.6,-86.3,-85.5,-68.4,-66.0,-71.0,-72.0,
-52.5,-51.3,-51.8,-49.8,-55.3,-55.3,-45.8,-43.8,-45.6,-31.9,
-36.1,-38.6,-46.2,-34.0,-30.0,-90,-90,-90,-90,-90,
-90,-90,-90,-90,-90,-90,-90,-90,-90,-78,
-65,-70
];
const outLog = [
-0.6,-0.7,-0.55,-0.85,-1.1,-1.15,-0.9,-0.95,-2.0,-0.85,
-1.2,-1.25,-1.3,-1.05,-1.1,-1.0,-1.8,-1.45,-1.8,-1.7,
-1.25,-1.7,-1.95,-1.5,-1.45,-0.95,-1.0,-1.2,-1.3,-1.2,
-1.65,-0.7,-1.2,-1.2,-1.45,-1.75,-1.1,-0.85,-1.7,-1.5,
-1.95,-1.1,-0.8,-1.75,-1.5,-1.9,-1.05,-1.65,-1.1,-1.8,
-1.95,-1.85,-1.6,-1.95,-1.3,-1.3,-1.95,-0.5,-0.65,-1.45,
-1.2,-1.75,-1.25,-1.8,-1.4,-1.6,-1.65,-1.9,-1.7,-1.95,
-1.95,-1.8,-1.6,-1.5,-1.2,-1.4,-0.8,-0.85,-1.0,-1.85,
-1.5,-1.85,-1.55,-1.1,-0.85,-1.4,-1.45,-0.7,-1.5,-1.65,
-1.8,-1.7,-1.5,-1.55,-1.9,-1.95,-1.05,-1.55,-1.1,-1.2,
-1.1,-1.05,-1.45,-1.35,-1.95,-1.7,-1.8,-1.05,-1.3,-1.8,
-1.9,-1.15,-1.75,-1.65,-0.7,-1.8,-1.2,-1.85,-1.9,-1.45,
-1.9,-1.95,-1.7,-1.95,-1.75,-1.95,-1.9,-1.4,-1.45,-0.85,
-0.95,-1.75,-1.7,-1.75,-1.95,-1.6,-1.25,-1.7,-1.15,-1.1,
-1.75,-1.05,-1.1,-1.2,-1.1,-1.15,-1.1,-0.9,-0.9,-1.45,
-1.1,-1.5,-1.45,-1.3,-1.95,-1.9,-1.75,-1.7,-1.5,-1.8,
-1.75,-1.4,-1.15,-1.95,-1.45,-1.45,-1.4,-1.6,-1.95,-1.7,
-1.1,-1.95,-1.9,-1.75,-1.95,-1.7,-1.15,-1.15,-1.2,-1.4,
-1.2,-1.5,-1.05,-1.95,-1.95,-1.75,-1.45,-1.45,-1.75,-1.45,
-1.95,-1.1,-1.45,-1.05,-0.65,-1.75,-1.4,-1.2,-1.9,-1.1,
-1.75,-1.2,-1.1,-1.1,-1.75,-1.1,-1.95,-1.1,-0.9,-1.75,
-0.65,-1.95,-1.1,-1.4,-0.85,-1.95,-1.75,-0.8,-1.4,-1.1,
-1.7,-1.6,-1.95,-1.2,-1.2,-1.15,-1.1,-1.05,-1.1,-1.3,
-0.9,-1.25,-1.0,-0.7,-0.75,-0.6,-0.85,-1.05,-0.9,-0.65,
-0.95,-0.8,-1.25,-1.4,-0.9,-1.45,-1.35,-1.05,-1.1,-0.95,
-1.2,-1.95,-1.7,-1.55,-0.75,-1.2,-1.15,-0.8,-1.45,-1.05,
-1.05,-1.4,-1.45,-0.65,-1.4,-0.85,-0.7,-1.2,-0.9,-1.95,
-1.5,-1.1,-1.35,-1.35,-1.3,-1.45,-1.7,-1.95,-0.85,-0.85,
-1.4,-1.85,-1.7,-1.95,-1.2,-1.95,-1.5,-1.05,-1.1,-1.15,
-1.1,-0.85,-1.4,-0.85,-1.75,-1.15,-1.1,-1.95,-1.6,-1.65,
-0.85,-1.95,-1.7,-1.75,-1.95,-0.6,-1.75,-1.5,-1.55,-1.45,
-1.7,-1.4,-1.4,-0.65,-1.7,-1.1,-1.05,-0.9,-1.0,-0.85,
-0.85,-1.1,-1.15,-1.15,-0.55,-1.5,-1.45,-0.95,-1.15,-1.6,
-1.55,-1.3
];

// ---------------- styling helpers ----------------
const VIRIDIS = [[68,1,84],[72,36,117],[65,68,135],[53,95,141],[42,120,142],[33,145,140],[34,168,132],[68,191,112],[122,209,81],[189,223,38],[253,231,37]];
function viridis(t, a) {
  t = Math.max(0, Math.min(1, t));
  const f = t * 10, i = Math.min(9, Math.floor(f)), r = f - i;
  const c0 = VIRIDIS[i], c1 = VIRIDIS[i + 1];
  const c = c0.map((v, k) => Math.round(v + (c1[k] - v) * r));
  return `rgba(${c[0]},${c[1]},${c[2]},${a})`;
}
const ALPHA = 0.8;
const colorOf = v => viridis((v - cbMin) / (cbMax - cbMin), ALPHA);
const minus = v => (v < 0 ? '\u2212' + Math.abs(v) : String(v));
const minus1 = v => (v < 0 ? '\u2212' + Math.abs(v).toFixed(1) : v.toFixed(1));

const pts = [], cols = [];
function addColumns(des, ls, lg) {
  for (let i = 0; i < des.length; i++) {
    for (let k = 0; k < 8; k++) {
      const j = i * 8 + k;
      pts.push({ x: des[i], y: ls[j] });
      cols.push(colorOf(lg[j]));
    }
  }
}
addColumns(bandDes, bandLs, bandLog);
addColumns(band2Des, band2Ls, band2Log);
for (let i = 0; i < outDes.length; i++) {
  pts.push({ x: outDes[i], y: outLs[i] });
  cols.push(colorOf(outLog[i]));
}

const FONT = "'DejaVu Sans', sans-serif";
Chart.defaults.font.family = FONT;
Chart.defaults.color = '#000';

const CB_LEFT = 669.5, CB_RIGHT = 695.5;

const framePlugin = {
  id: 'frame',
  afterDatasetsDraw(chart) {
    const { ctx, chartArea: a } = chart;
    ctx.save();
    ctx.strokeStyle = '#000';
    ctx.lineWidth = 1.5;
    ctx.strokeRect(a.left, a.top, a.right - a.left, a.bottom - a.top);
    ctx.restore();
  }
};

const colorbarPlugin = {
  id: 'colorbar',
  afterLayout(chart) {
    const s = chart.scales.cb;
    const w = s.right - s.left;
    s.left = CB_RIGHT;
    s.right = CB_RIGHT + w;
  },
  afterDraw(chart) {
    const { ctx } = chart;
    const s = chart.scales.cb;
    const top = s.getPixelForValue(cbMax), bottom = s.getPixelForValue(cbMin);
    ctx.save();
    const g = ctx.createLinearGradient(0, bottom, 0, top);
    for (let i = 0; i <= 40; i++) g.addColorStop(i / 40, viridis(i / 40, ALPHA));
    ctx.fillStyle = g;
    ctx.fillRect(CB_LEFT, top, CB_RIGHT - CB_LEFT, bottom - top);
    ctx.strokeStyle = '#000';
    ctx.lineWidth = 1.3;
    ctx.strokeRect(CB_LEFT, top, CB_RIGHT - CB_LEFT, bottom - top);
    // colorbar label: log(e_DES)
    const cy = (top + bottom) / 2;
    ctx.translate(812, cy);
    ctx.rotate(-Math.PI / 2);
    ctx.fillStyle = '#000';
    ctx.textBaseline = 'alphabetic';
    const segs = [
      { t: 'log(', f: `29px ${FONT}`, dy: 0 },
      { t: 'e', f: `italic 29px ${FONT}`, dy: 0 },
      { t: 'DES', f: `20px ${FONT}`, dy: 6 },
      { t: ')', f: `29px ${FONT}`, dy: 0 }
    ];
    let total = 0;
    segs.forEach(sg => { ctx.font = sg.f; sg.w = ctx.measureText(sg.t).width; total += sg.w; });
    let x = -total / 2;
    segs.forEach(sg => { ctx.font = sg.f; ctx.fillText(sg.t, x, sg.dy); x += sg.w; });
    ctx.restore();
  }
};

const gridCommon = { color: '#b0b0b0', lineWidth: 1, tickColor: '#000', tickLength: 6, tickWidth: 1.5, tickBorderDash: [] };

new Chart(document.getElementById('c'), {
  type: 'scatter',
  data: {
    datasets: [
      {
        type: 'scatter', label: 'galaxies', data: pts,
        pointBackgroundColor: cols, pointBorderColor: cols, backgroundColor: cols,
        pointRadius: 3.3, pointBorderWidth: 0, order: 2
      },
      {
        type: 'line', label: '1:1', data: refLineX.map((x, i) => ({ x, y: refLineY[i] })),
        borderColor: '#ff0000', borderWidth: 3, borderDash: [10, 5], pointRadius: 0,
        fill: false, order: 1
      }
    ]
  },
  options: {
    responsive: false, animation: false, events: [],
    layout: { padding: { left: 0, top: 16.7, right: 0, bottom: 0 } },
    plugins: { legend: { display: false }, tooltip: { enabled: false } },
    scales: {
      x: {
        type: 'linear', position: 'bottom', min: -95, max: 95,
        afterBuildTicks: s => { s.ticks = xTicks.map(v => ({ value: v })); },
        afterFit: s => { s.height = 86.5; },
        ticks: { padding: 8, color: '#000', font: { size: 29 }, callback: v => minus(v), maxRotation: 0, autoSkip: false },
        grid: gridCommon,
        border: { display: false, dash: [1.5, 2.5] },
        title: { display: true, text: 'DES angle [deg]', color: '#000', font: { size: 29 }, padding: { top: 0, bottom: 4 } }
      },
      y: {
        type: 'linear', position: 'left', min: -95, max: 95,
        afterBuildTicks: s => { s.ticks = yTicks.map(v => ({ value: v })); },
        afterFit: s => { s.width = 120.7; },
        ticks: { padding: 6, color: '#000', font: { size: 29, lineHeight: 0.6 }, callback: v => minus(v), autoSkip: false },
        grid: gridCommon,
        border: { display: false, dash: [1.5, 2.5] },
        title: { display: true, text: 'LS angle [deg]', color: '#000', font: { size: 29 }, padding: { top: 1, bottom: 0 } }
      },
      cb: {
        type: 'linear', axis: 'y', position: 'right', min: cbMin, max: cbMax,
        afterBuildTicks: s => { s.ticks = cbTicks.map(v => ({ value: v })); },
        afterFit: s => { s.width = 192; },
        ticks: { padding: 5, color: '#000', font: { size: 29, lineHeight: 0.6 }, callback: v => minus1(v), autoSkip: false },
        grid: { drawOnChartArea: false, tickColor: '#000', tickLength: 6, tickWidth: 1.5 },
        border: { display: false }
      }
    }
  },
  plugins: [framePlugin, colorbarPlugin]
});
</script>
</body></html>
